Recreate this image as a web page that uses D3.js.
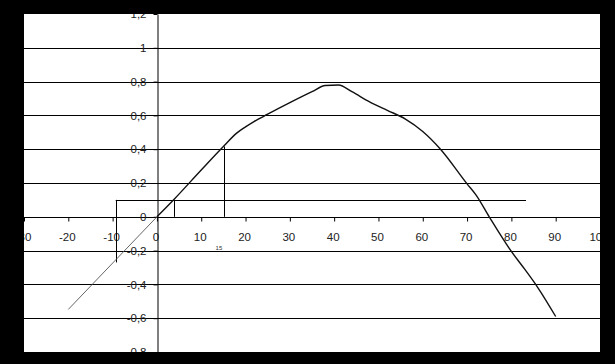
<!DOCTYPE html>
<html>
<head>
<meta charset="utf-8">
<script src="https://cdn.jsdelivr.net/npm/d3@7"></script>
<style>
  html, body { margin: 0; padding: 0; background: #000; }
  svg { display: block; }
</style>
</head>
<body>
<div id="chart"></div>
<script>
// curve (x, y)
var curveX = [0, 4, 10, 15, 18, 20, 22, 25, 30, 35, 38, 41, 44, 48, 52, 56, 60, 64, 70, 72, 75, 80, 83, 86, 90];
var curveY = [0, 0.107, 0.277, 0.416, 0.495, 0.532, 0.565, 0.607, 0.675, 0.74, 0.777, 0.78, 0.74, 0.68, 0.63, 0.58, 0.505, 0.40, 0.195, 0.13, 0, -0.205, -0.31, -0.42, -0.59];
// faint extension to the left
var leftX = [-20, 0];
var leftY = [-0.548, 0];
// guide lines
var levelY = 0.1;
var levelFromX = -9.3, levelToX = 83.3;
var dropX = [-9.3, 3.9, 15.1];
var dropTopY = [0.1, 0.1, 0.416];
var dropBottomY = [-0.27, 0, 0];
var markLabel = '15';

var xTicks = d3.range(-30, 101, 10);
var yTicks = [-0.8, -0.6, -0.4, -0.2, 0, 0.2, 0.4, 0.6, 0.8, 1, 1.2];

(function() {
  var W = 615, H = 364;
  var plot = { left: 24, top: 14, right: 600, bottom: 352 };

  var svg = d3.select('#chart').append('svg')
    .attr('width', W).attr('height', H);

  svg.append('rect').attr('width', W).attr('height', H).attr('fill', '#000');

  svg.append('defs').append('clipPath').attr('id', 'plot-clip')
    .append('rect')
    .attr('x', plot.left).attr('y', plot.top)
    .attr('width', plot.right - plot.left).attr('height', plot.bottom - plot.top);

  var g = svg.append('g').attr('clip-path', 'url(#plot-clip)');

  g.append('rect')
    .attr('x', plot.left).attr('y', plot.top)
    .attr('width', plot.right - plot.left).attr('height', plot.bottom - plot.top)
    .attr('fill', '#fff');

  var x = d3.scaleLinear().domain([-30, 100]).range([plot.left, plot.right]);
  var y = d3.scaleLinear().domain([-0.8, 1.2]).range([plot.bottom, plot.top]);

  var fmt = function(d) { return String(+d.toFixed(1)).replace('.', ','); };

  // horizontal grid
  g.append('g').selectAll('line')
    .data(yTicks.filter(function(d) { return d > -0.8 && d < 1.2; }))
    .join('line')
    .attr('x1', plot.left).attr('x2', plot.right)
    .attr('y1', function(d) { return Math.round(y(d)) + 0.5; })
    .attr('y2', function(d) { return Math.round(y(d)) + 0.5; })
    .attr('stroke', '#000').attr('stroke-width', 1);

  // x axis
  var xAxis = g.append('g')
    .attr('transform', 'translate(0,' + (Math.round(y(0)) + 0.5) + ')')
    .call(d3.axisBottom(x).tickValues(xTicks).tickSize(4).tickSizeOuter(0).tickPadding(11)
      .tickFormat(function(d) { return d; }));
  xAxis.select('.domain').remove();
  xAxis.selectAll('.tick text').attr('dx', -1.5);

  // y axis
  var yAxis = g.append('g')
    .attr('transform', 'translate(' + (Math.round(x(0)) + 0.5) + ',0)')
    .call(d3.axisLeft(y).tickValues(yTicks).tickSize(4).tickSizeOuter(0).tickPadding(7)
      .tickFormat(fmt));
  yAxis.select('.domain').attr('stroke', '#000');

  g.selectAll('.tick line').attr('stroke', '#000');
  g.selectAll('.tick text')
    .attr('fill', '#222')
    .style('font-family', 'Liberation Sans, Arial, sans-serif')
    .style('font-size', '11.5px');

  // guide lines
  g.append('line')
    .attr('x1', x(levelFromX)).attr('x2', x(levelToX))
    .attr('y1', Math.round(y(levelY)) + 0.5).attr('y2', Math.round(y(levelY)) + 0.5)
    .attr('stroke', '#000').attr('stroke-width', 1);

  g.append('g').selectAll('line')
    .data(dropX)
    .join('line')
    .attr('x1', function(d) { return Math.round(x(d)) + 0.5; })
    .attr('x2', function(d) { return Math.round(x(d)) + 0.5; })
    .attr('y1', function(d, i) { return y(dropTopY[i]); })
    .attr('y2', function(d, i) { return y(dropBottomY[i]); })
    .attr('stroke', '#000').attr('stroke-width', 1);

  g.append('text')
    .attr('x', x(14)).attr('y', y(0) + 33)
    .attr('text-anchor', 'middle')
    .attr('fill', '#333')
    .style('font-family', 'Liberation Sans, Arial, sans-serif')
    .style('font-size', '6px')
    .text(markLabel);

  var line = d3.line()
    .x(function(d) { return x(d[0]); })
    .y(function(d) { return y(d[1]); })
    .curve(d3.curveMonotoneX);

  g.append('path')
    .datum(leftX.map(function(v, i) { return [v, leftY[i]]; }))
    .attr('d', d3.line().x(function(d) { return x(d[0]); }).y(function(d) { return y(d[1]); }))
    .attr('fill', 'none')
    .attr('stroke', '#555')
    .attr('stroke-width', 0.9);

  g.append('path')
    .datum(curveX.map(function(v, i) { return [v, curveY[i]]; }))
    .attr('d', line)
    .attr('fill', 'none')
    .attr('stroke', '#111')
    .attr('stroke-width', 1.4);
})();
</script>
</body>
</html>
